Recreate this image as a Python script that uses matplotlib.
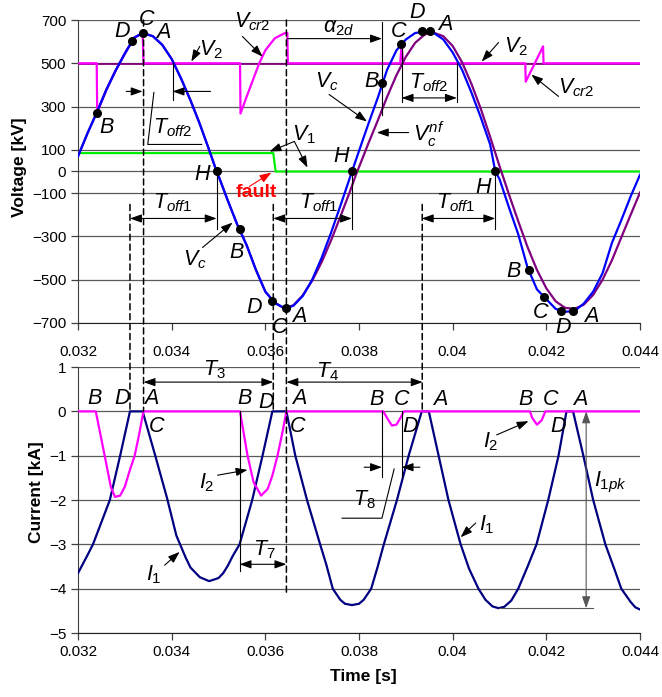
import matplotlib
matplotlib.use("Agg")
import matplotlib.pyplot as plt
import matplotlib.transforms as mtransforms
from matplotlib.patches import ConnectionPatch

plt.rcParams['font.family'] = ['Liberation Sans', 'DejaVu Sans']
plt.rcParams['mathtext.fontset'] = 'custom'
plt.rcParams['mathtext.it'] = 'Liberation Sans:italic'
plt.rcParams['mathtext.rm'] = 'Liberation Sans'
plt.rcParams['mathtext.bf'] = 'Liberation Sans:bold'

# ---- voltage data [kV] ----
vc_t = [0.0320, 0.0322, 0.0324, 0.0326, 0.0328, 0.0330, 0.0332, 0.03338, 0.0336, 0.0338,
        0.0340, 0.0342, 0.0344, 0.0346, 0.0348, 0.03496, 0.0350, 0.0352, 0.0354, 0.0356,
        0.0358, 0.0360, 0.0362, 0.0364, 0.03645, 0.0366, 0.0368, 0.0370, 0.0372, 0.0374,
        0.0376, 0.03785, 0.0380, 0.0382, 0.0384, 0.0386, 0.0388, 0.0390, 0.0392, 0.03945,
        0.0396, 0.0398, 0.0400, 0.0402, 0.0404, 0.0406, 0.0408, 0.04091, 0.0410, 0.0412,
        0.0414, 0.0416, 0.0418, 0.0420, 0.0422, 0.0424, 0.0426, 0.0428, 0.0430, 0.0432,
        0.0434, 0.0436, 0.0438, 0.0440]
vc_v = [70, 175, 272, 375, 465, 545, 618, 640, 625, 585,
        520, 430, 330, 220, 100, 0, -20, -135, -245, -340,
        -455, -555, -608, -630, -632, -620, -575, -500, -400, -285,
        -160, 0, 95, 220, 340, 470, 560, 610, 640, 648,
        640, 610, 550, 470, 365, 250, 125, 0, -35, -165,
        -290, -445, -545, -590, -635, -648, -645, -610, -555, -470,
        -330, -225, -115, -15]

vcnf_t = [0.0320, 0.0322, 0.0324, 0.0326, 0.0328, 0.0330, 0.0332, 0.03338, 0.0336, 0.0338,
          0.0340, 0.0342, 0.0344, 0.0346, 0.0348, 0.03496, 0.0350, 0.0352, 0.0354, 0.0356,
          0.0358, 0.0360, 0.0362, 0.0364, 0.0366, 0.0368, 0.0370, 0.0372, 0.0374, 0.0376,
          0.0378, 0.03796, 0.0380, 0.0382, 0.0384, 0.0386, 0.0388, 0.0390, 0.0392, 0.0394,
          0.03955, 0.0398, 0.0400, 0.0402, 0.0404, 0.0406, 0.0408, 0.0410, 0.0412, 0.0414,
          0.0416, 0.0418, 0.0420, 0.0422, 0.0424, 0.0426, 0.0428, 0.0430, 0.0432, 0.0434,
          0.0436, 0.0438, 0.0440]
vcnf_v = [70, 175, 272, 375, 465, 545, 618, 640, 625, 585,
          520, 430, 330, 220, 100, 0, -20, -135, -245, -340,
          -455, -555, -605, -632, -618, -572, -505, -420, -320, -210,
          -96, 0, 20, 130, 235, 345, 445, 530, 595, 632,
          645, 625, 580, 505, 405, 290, 160, 25, -105, -230,
          -350, -455, -540, -600, -630, -635, -615, -570, -500, -410,
          -305, -200, -97]

v2_t = [0.0320, 0.0324, 0.03241, 0.0326, 0.0328, 0.0330, 0.0332, 0.03338, 0.03340,
        0.03546, 0.03547, 0.0356, 0.0358, 0.03587, 0.0360, 0.0362, 0.0364, 0.03647, 0.03648,
        0.03888, 0.03891, 0.03894, 0.04155, 0.04156, 0.04193, 0.04194, 0.0440]
v2_v = [500, 500, 272, 375, 465, 545, 618, 640, 500,
        500, 268, 345, 460, 500, 560, 615, 638, 640, 500,
        500, 587, 500, 500, 415, 578, 500, 500]

v2nf_t = [0.032, 0.044]
v2nf_v = [500, 500]

v1_t = [0.0320, 0.03617, 0.03622, 0.0440]
v1_v = [85, 85, 0, 0]

# marked points on Vc (A, B, C, D, H)
pts_t = [0.0324, 0.03315, 0.03338, 0.03496, 0.03545, 0.03615, 0.03645, 0.03785, 0.0385,
         0.0389, 0.03934, 0.03951, 0.04091, 0.04162, 0.04196, 0.04232, 0.04257]
pts_v = [272, 605, 640, 0, -268, -600, -632, 0, 410,
         587, 647, 647, 0, -457, -580, -645, -645]

# ---- current data [kA] ----
i1_t = [0.0320, 0.0321, 0.0322, 0.03232, 0.0325, 0.03268, 0.0329, 0.03311, 0.03338,
        0.03365, 0.0339, 0.0341, 0.0343, 0.0344, 0.0346, 0.0348, 0.0350, 0.0351, 0.0352,
        0.0353, 0.03545, 0.03572, 0.03594, 0.03615, 0.03645, 0.03664, 0.03689, 0.03717,
        0.0373, 0.03744, 0.0376, 0.0377, 0.03785, 0.0380, 0.0381, 0.03826, 0.0384, 0.03853,
        0.03881, 0.03906, 0.03934, 0.03949, 0.0397, 0.03991, 0.04017, 0.04035, 0.04055,
        0.0407, 0.04085, 0.04098, 0.0411, 0.04125, 0.0414, 0.0416, 0.04179, 0.04204,
        0.04226, 0.04243, 0.04257, 0.04279, 0.0430, 0.04326, 0.04345, 0.0436, 0.0438,
        0.0439, 0.0440]
i1_v = [-3.65, -3.45, -3.25, -3.0, -2.5, -2.0, -1.0, 0.0, 0.0,
        -1.0, -1.95, -2.8, -3.3, -3.52, -3.74, -3.83, -3.76, -3.65, -3.48,
        -3.27, -3.0, -2.0, -1.0, 0.0, 0.0, -1.0, -2.0, -3.0,
        -3.45, -4.0, -4.25, -4.34, -4.37, -4.34, -4.25, -4.0, -3.5, -3.0,
        -2.0, -1.0, 0.0, 0.0, -1.0, -2.0, -3.0, -3.55, -4.0,
        -4.25, -4.4, -4.44, -4.41, -4.27, -4.0, -3.5, -3.0, -2.0,
        -1.0, 0.0, 0.0, -1.0, -2.0, -3.0, -3.55, -4.0, -4.3,
        -4.42, -4.47]

i2_t = [0.0320, 0.03238, 0.03257, 0.0327, 0.03279, 0.0329, 0.0330, 0.0331, 0.03321, 0.0333,
        0.03338, 0.0334, 0.03546, 0.03562, 0.03575, 0.03591, 0.03605, 0.03615, 0.03626,
        0.03637, 0.03645, 0.03852, 0.0386, 0.0387, 0.0388, 0.0389, 0.03896, 0.04165,
        0.0417, 0.0418, 0.0419, 0.04198, 0.0440]
i2_v = [0, 0, -1.0, -1.7, -1.93, -1.9, -1.7, -1.35, -1.0, -0.55,
        -0.1, 0, 0, -1.0, -1.6, -1.9, -1.75, -1.45, -1.0,
        -0.45, 0, 0, -0.15, -0.32, -0.3, -0.12, 0, 0,
        -0.15, -0.3, -0.2, 0, 0]

x_ticks = [0.032, 0.034, 0.036, 0.038, 0.040, 0.042, 0.044]
x_labels = ['0.032', '0.034', '0.036', '0.038', '0.04', '0.042', '0.044']
v_ticks = [700, 500, 300, 100, 0, -100, -300, -500, -700]
i_ticks = [1, 0, -1, -2, -3, -4, -5]

fig = plt.figure(figsize=(6.62, 6.97), dpi=100)
ax1 = fig.add_axes([0.1178, 0.5366, 0.849, 0.4347])
ax2 = fig.add_axes([0.1178, 0.0918, 0.849, 0.3816])

for ax in (ax1, ax2):
    ax.set_xlim(0.032, 0.044)
    ax.set_xticks(x_ticks)
    ax.set_xticklabels(x_labels)
    ax.spines['top'].set_visible(False)
    ax.spines['right'].set_visible(False)
    ax.spines['left'].set_color('#404040')
    ax.spines['bottom'].set_color('#202020')
    ax.tick_params(direction='out', length=5, width=0.9, color='#404040', labelsize=11)
    ax.yaxis.grid(True, color='#5a5a5a', lw=0.9)
    ax.set_axisbelow(True)

ax1.set_ylim(-700, 700)
ax1.set_yticks(v_ticks)
ax1.tick_params(axis='x', pad=11)
ax2.set_ylim(-5, 1)
ax2.set_yticks(i_ticks)

# ---- top: voltages ----
down1 = mtransforms.offset_copy(ax1.transData, fig=fig, x=0, y=-1.2, units='dots')
ax1.plot(v1_t, v1_v, color='#00ee00', lw=1.6, zorder=2)
ax1.plot(v2nf_t, v2nf_v, color='#800080', lw=1.3, zorder=2, transform=down1)
ax1.plot(v2_t, v2_v, color='#ff00ff', lw=1.6, zorder=3)
ax1.plot(vcnf_t, vcnf_v, color='#800080', lw=1.6, zorder=4)
ax1.plot(vc_t, vc_v, color='#0000ff', lw=1.6, zorder=5)
ax1.plot(pts_t, pts_v, 'o', color='k', ms=5.5, zorder=6)

# ---- bottom: currents ----
ax2.plot(i1_t, i1_v, color='#000080', lw=1.6, zorder=3)
ax2.plot(i2_t, i2_v, color='#ff00ff', lw=1.6, zorder=4)


def lab(ax, x, y, s, size=15.5):
    ax.text(x, y, s, ha='center', va='center', fontsize=size, fontstyle='italic', zorder=7)


def arrow(ax, x0, y0, x1, y1, style='-|>', color='k', lw=0.8):
    ax.annotate('', xy=(x1, y1), xytext=(x0, y0),
                arrowprops=dict(arrowstyle=style + ',head_length=0.7,head_width=0.25',
                                color=color, lw=lw, shrinkA=0, shrinkB=0), zorder=7)


def seg(ax, xs, ys, color='k', lw=0.8):
    ax.plot(xs, ys, color=color, lw=lw, zorder=6, clip_on=False)


# top labels
for s, x, y in [('D', 0.03294, 647), ('C', 0.03347, 702), ('A', 0.03381, 642),
                ('B', 0.03262, 203), ('H', 0.03464, -14), ('B', 0.03538, -374),
                ('D', 0.03577, -628), ('C', 0.0363, -721), ('A', 0.03672, -670),
                ('C', 0.03885, 647), ('D', 0.03923, 735), ('A', 0.03985, 679),
                ('B', 0.03826, 416), ('H', 0.03762, 69), ('H', 0.04066, -74),
                ('B', 0.0413, -462), ('C', 0.04187, -652), ('D', 0.04236, -721),
                ('A', 0.04296, -670)]:
    lab(ax1, x, y, s)

lab(ax1, 0.03485, 564, r'$V_{\mathit{2}}$')
arrow(ax1, 0.0346, 578, 0.03442, 508)
lab(ax1, 0.03572, 690, r'$V_{\mathit{cr2}}$')
arrow(ax1, 0.03551, 624, 0.03594, 531)
lab(ax1, 0.03402, 203, r'$T_{\mathit{off2}}$')
seg(ax1, [0.03362, 0.03349, 0.03464], [365, 125, 125])
arrow(ax1, 0.03303, 370, 0.03338, 370)
arrow(ax1, 0.03483, 370, 0.03402, 370)
seg(ax1, [0.03402, 0.03402], [500, 330])
lab(ax1, 0.03683, 171, r'$V_{\mathit{1}}$')
arrow(ax1, 0.03662, 139, 0.03609, 92)
arrow(ax1, 0.03662, 139, 0.0369, 18)
ax1.text(0.03581, -97, 'fault', color='red', fontsize=14, fontweight='bold',
         ha='center', va='center', zorder=7)
arrow(ax1, 0.03566, -69, 0.03613, -5, color='red')
lab(ax1, 0.03449, -407, r'$V_c$')
arrow(ax1, 0.03466, -351, 0.0353, -236)

# T_off1 dimensions
for x0, x1, xl in [(0.03311, 0.03496, 0.03402), (0.03617, 0.03785, 0.03715),
                   (0.03934, 0.04091, 0.04006)]:
    arrow(ax1, x0, -217, x1, -217, style='<|-|>')
    seg(ax1, [x1, x1], [0, -268])
    lab(ax1, xl, -143, r'$T_{\mathit{off1}}$')

lab(ax1, 0.03757, 665, r'$\alpha_{\mathit{2d}}$')
arrow(ax1, 0.03647, 614, 0.03849, 614)
seg(ax1, [0.03849, 0.03849], [690, 263])
lab(ax1, 0.03949, 411, r'$T_{\mathit{off2}}$')
arrow(ax1, 0.03891, 340, 0.04009, 340, style='<|-|>')
seg(ax1, [0.03891, 0.03891], [587, 320])
seg(ax1, [0.04009, 0.04009], [500, 320])
lab(ax1, 0.04136, 578, r'$V_{\mathit{2}}$')
arrow(ax1, 0.04098, 596, 0.04062, 508)
lab(ax1, 0.04264, 388, r'$V_{\mathit{cr2}}$')
arrow(ax1, 0.04226, 347, 0.04168, 448)
lab(ax1, 0.03732, 416, r'$V_c$')
arrow(ax1, 0.03736, 356, 0.03817, 231)
lab(ax1, 0.03949, 171, r'$V_c^{\mathit{nf}}$')
arrow(ax1, 0.03906, 180, 0.03838, 180)

# bottom labels
for s, x, y in [('B', 0.03236, 0.30), ('D', 0.03294, 0.30), ('A', 0.03357, 0.30),
                ('C', 0.03368, -0.35), ('B', 0.03555, 0.30), ('D', 0.03602, 0.19),
                ('A', 0.03672, 0.30), ('C', 0.03668, -0.35), ('B', 0.03838, 0.26),
                ('C', 0.03891, 0.26), ('D', 0.0391, -0.35), ('A', 0.03974, 0.26),
                ('B', 0.04155, 0.26), ('C', 0.04209, 0.26), ('A', 0.04272, 0.26),
                ('D', 0.04226, -0.35)]:
    lab(ax2, x, y, s)

lab(ax2, 0.03491, 0.93, r'$T_{\mathit{3}}$')
arrow(ax2, 0.0334, 0.66, 0.03617, 0.66, style='<|-|>')
lab(ax2, 0.03732, 0.89, r'$T_{\mathit{4}}$')
arrow(ax2, 0.03645, 0.66, 0.03936, 0.66, style='<|-|>')
lab(ax2, 0.03474, -1.62, r'$I_{\mathit{2}}$')
arrow(ax2, 0.03498, -1.44, 0.03562, -1.32)
lab(ax2, 0.03362, -3.69, r'$I_{\mathit{1}}$')
arrow(ax2, 0.03385, -3.47, 0.03417, -3.17)
lab(ax2, 0.03598, -3.13, r'$T_{\mathit{7}}$')
arrow(ax2, 0.03545, -3.45, 0.03645, -3.45, style='<|-|>')
seg(ax2, [0.03545, 0.03545], [0, -3.6])
lab(ax2, 0.03811, -2.0, r'$T_{\mathit{8}}$')
seg(ax2, [0.03764, 0.03849, 0.03875], [-2.41, -2.41, -1.3])
arrow(ax2, 0.03811, -1.26, 0.03849, -1.26)
arrow(ax2, 0.0393, -1.26, 0.03891, -1.26)
seg(ax2, [0.03849, 0.03849], [0, -1.48])
seg(ax2, [0.03891, 0.03891], [0, -1.48])
lab(ax2, 0.04072, -2.56, r'$I_{\mathit{1}}$')
arrow(ax2, 0.04049, -2.52, 0.04017, -2.84)
lab(ax2, 0.04081, -0.69, r'$I_{\mathit{2}}$')
arrow(ax2, 0.04094, -0.53, 0.04162, -0.22)
lab(ax2, 0.04336, -1.6, r'$I_{\mathit{1pk}}$')
arrow(ax2, 0.04285, 0, 0.04285, -4.44, style='<|-|>', color='#555555')
seg(ax2, [0.04098, 0.043], [-4.44, -4.44], color='#555555')

# dashed lines running through both panels
for t, va, ib in [(0.03311, -152, 0), (0.0334, 700, 0), (0.03617, -152, 0),
                  (0.03645, 700, -4.1), (0.03935, -152, 0)]:
    con = ConnectionPatch(xyA=(t, va), coordsA=ax1.transData, xyB=(t, ib),
                          coordsB=ax2.transData, color='k', lw=1.1,
                          linestyle=(0, (4, 2.5)), zorder=8)
    fig.add_artist(con)

fig.text(20 / 662, 1 - 167 / 697, 'Voltage [kV]', rotation=90, ha='center', va='center',
         fontsize=12.5, fontweight='bold')
fig.text(37 / 662, 1 - 492 / 697, 'Current [kA]', rotation=90, ha='center', va='center',
         fontsize=12.5, fontweight='bold')
fig.text(363 / 662, 1 - 676 / 697, 'Time [s]', ha='center', va='center',
         fontsize=12.5, fontweight='bold')

fig.savefig('out.png', dpi=100)
